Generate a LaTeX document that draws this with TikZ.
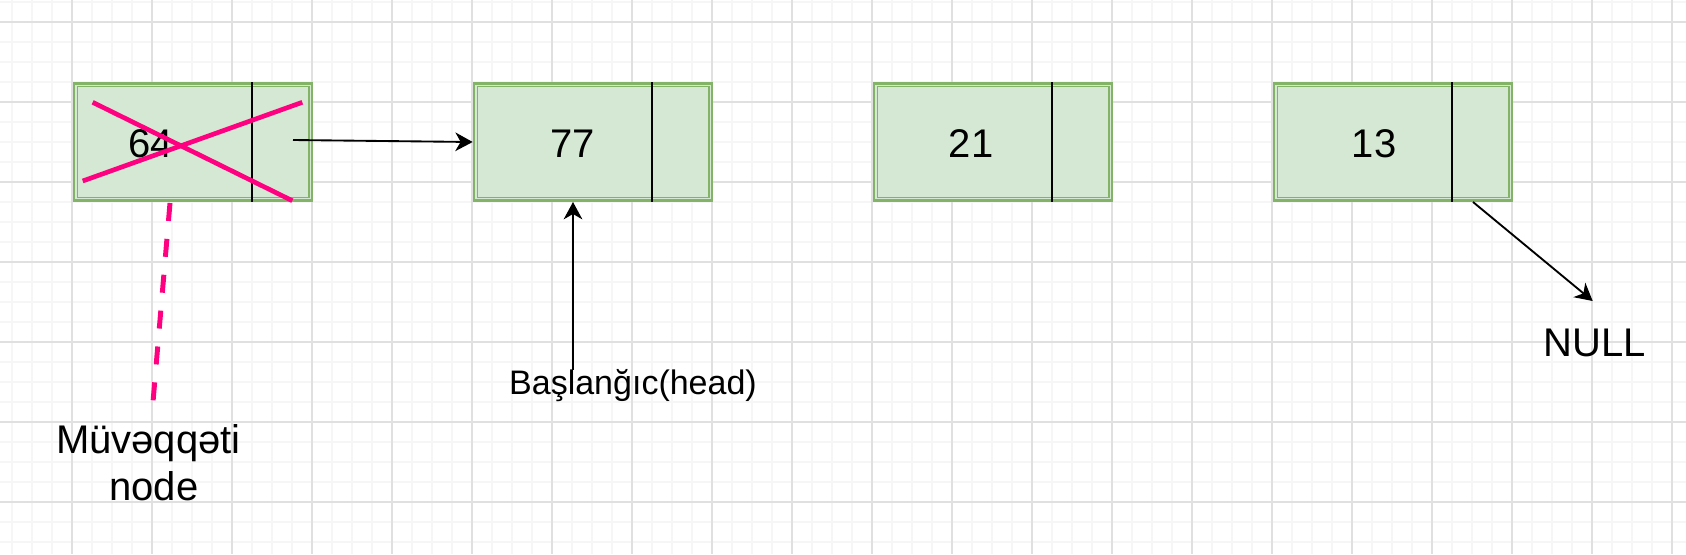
\documentclass[tikz,border=0pt]{standalone}
\usepackage{fontspec}
\setmainfont{Liberation Sans}
\usetikzlibrary{arrows.meta}

\definecolor{boxfill}{HTML}{D5E8D4}
\definecolor{boxline}{HTML}{82B366}
\definecolor{crosspink}{HTML}{FF0080}
\definecolor{gridmajor}{HTML}{E0E0E0}
\definecolor{gridminor}{HTML}{F6F6F6}

\tikzset{
	listbox/.style={draw=boxline,fill=boxfill,line width=2pt,minimum width=178.5pt,minimum height=88pt,inner sep=0pt},
	innerline/.style={boxline,line width=1pt},
	divider/.style={line width=1.5pt},
	val/.style={anchor=base,inner sep=0pt,font=\fontsize{30}{36}\selectfont},
	ptr/.style={line width=1.4pt,-{Stealth[length=13pt,width=14pt,inset=4pt]}},
	cross/.style={crosspink,line width=3.5pt},
}

\begin{document}
\begin{tikzpicture}[x=0.75pt,y=-0.75pt]
		\fill[white] (0,0) rectangle (1686,554);
		\useasboundingbox (0,0) rectangle (1686,554);

		% grid
		\foreach \x in {12,32,...,1682} { \draw[gridminor,line width=1pt] (\x,0) -- (\x,554);}
		\foreach \y in {2,22,...,552} { \draw[gridminor,line width=1pt] (0,\y) -- (1686,\y);}
		\foreach \x in {72,152,...,1672} { \draw[gridmajor,line width=0.8pt] (\x,0) -- (\x,554);}
		\foreach \y in {22,102,...,502} { \draw[gridmajor,line width=0.8pt] (0,\y) -- (1686,\y);}

		\foreach \n / \x in {n64/193,n77/593,n21/993,n13/1393} {
			\node[listbox] (\n) at (\x,142) {};
			\draw[innerline] ([shift={(4.5,4.5)}]\n.north west) rectangle ([shift={(-4.5,-4.5)}]\n.south east);
			\draw[divider] ([shift={(179,0)}]\n.north west) -- ([shift={(179,0)}]\n.south west);
		}
		\foreach \v / \x in {64/151,77/573,21/971,13/1374} { \node[val] (v\v) at (\x,157) {\v};}

		\draw[cross] (92.7,102.3) -- (292.3,200.7);
		\draw[cross] (82.7,181) -- (302.3,102.3);

		\coordinate (p64) at (293,140);
		\draw[ptr] (p64) -- (n77.west);

		\node[val,font=\fontsize{25.5}{30}\selectfont] (head) at (633,394) {Başlanğıc(head)};
		\coordinate (hd) at (573,370);
		\draw[ptr] (hd) -- (hd |- n77.south);

		\coordinate (p13) at (1473,202);
		\coordinate (nl) at (1592.7,301);
		\draw[ptr] (p13) -- (nl);
		\node[val] (null) at (1594.5,356) {NULL};

		\node[val,align=center,font=\fontsize{30}{35.25}\selectfont] (tmp) at (154,500) {Müvəqqəti\hspace*{0.28em}\\node};
		\coordinate (t64) at (170,203);
		\coordinate (tt) at (153,402);
%		\draw[crosspink,line width=3.7pt] (t64) -- (tmp.north);
		\draw[crosspink,line width=3.7pt,dash pattern=on 13.5pt off 13.5pt] (t64) -- (tt);
	\end{tikzpicture}
\end{document}
